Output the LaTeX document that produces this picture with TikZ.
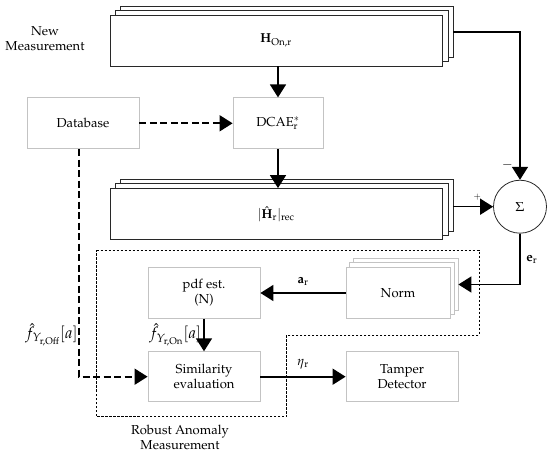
\documentclass[tikz,border=0pt]{standalone}
\usepackage[T1]{fontenc}
\usepackage{mathpazo}
\usetikzlibrary{arrows.meta,calc,backgrounds}
\definecolor{boxgray}{RGB}{195,195,195}
\definecolor{stackblack}{RGB}{40,40,40}
\tikzset{
  gbox/.style={draw=boxgray,fill=white,line width=0.8pt,
               minimum width=112pt,minimum height=51pt,align=center,inner sep=2pt},
  kbox/.style={draw=stackblack,fill=white,line width=0.8pt,
               minimum width=332pt,minimum height=51pt},
  arr/.style={-{Triangle[length=13pt,width=16pt]},line width=1.6pt},
  darr/.style={arr,dash pattern=on 7pt off 3.5pt},
  bound/.style={line width=0.9pt,dash pattern=on 2.5pt off 1.5pt},
  flbl/.style={inner sep=1pt,font=\fontsize{16}{18}\selectfont},
}

\begin{document}
\begin{tikzpicture}[
  x=1pt, y=-1pt,
  font=\fontsize{13}{15}\selectfont,
  lbl/.style={inner sep=1pt, align=center}
]
\useasboundingbox (0,0) rectangle (550,452);

% blocks
\node[kbox] (hon) at (276,40.5) {$\mathbf{H}_{\mathrm{On,r}}$};
\node[gbox, minimum width=90pt] (dcae) at (278,123.3) {DCAE$^{*}_{\mathrm{r}}$};
\node[gbox] (db) at (83,123.3) {Database};
\node[kbox] (hrec) at (276,214) {$|\hat{\mathbf{H}}_{\mathrm{r}}|_{\mathrm{rec}}$};
\node[circle, draw=stackblack, fill=white, line width=0.8pt, minimum size=53pt] (sum) at (520,206.7) {$\Sigma$};
\node[gbox, minimum width=104pt] (norm) at (398,293) {Norm};
\node[gbox] (pdf) at (204,293) {pdf est.\\(N)};
\node[gbox, minimum height=50pt] (sim) at (204,376.7) {Similarity\\evaluation};
\node[gbox, minimum height=50pt] (tamp) at (402,376.7) {Tamper\\Detector};

\node[lbl] (newm) at (45,39) {New\\Measurement};
\node[lbl] (ram) at (180,437) {Robust Anomaly\\Measurement};

% stacked copies behind
\begin{scope}[on background layer]
\foreach \n/\dx/\dy in {hon/11/8.5, hon/5.5/4.5, hrec/11/8.5, hrec/5.5/4.5}
  \draw[stackblack, fill=white, line width=0.8pt]
    ([shift={(\dx,-\dy)}]\n.south west) rectangle ([shift={(\dx,-\dy)}]\n.north east);
\foreach \dx/\dy in {8/8.5, 4/4.5}
  \draw[boxgray, fill=white, line width=0.8pt]
    ([shift={(\dx,-\dy)}]norm.south west) rectangle ([shift={(\dx,-\dy)}]norm.north east);
\end{scope}

% robust anomaly measurement boundary
\draw[bound] (96.7,250) -- (479,250) -- (479,335) -- (286.7,335)
  -- (286.7,416.7) -- (96.7,416.7) -- cycle;

% connectors
\draw[arr] (hon.south -| dcae.north) -- (dcae.north);
\draw[arr] (dcae.south) -- (dcae.south |- hrec.north);
\draw[darr] (db.east) -- (dcae.west);
\draw[arr] ([shift={(11,-8.5)}]hon.east) -| node[pos=0.95, left=3pt]{$-$} (sum.north);
\draw[arr] ([xshift=11]hrec.east |- sum.west) -- node[above=2pt, xshift=4pt]{\small$+$} (sum.west);
\draw[arr] (sum.south) |- node[pos=0.25, right=2pt]{$\mathbf{e}_{\mathrm{r}}$} ([shift={(8,-8.5)}]norm.east);
\draw[arr] (norm.west) -- node[above=3pt]{$\mathbf{a}_{\mathrm{r}}$} (pdf.east);
\draw[arr] (pdf.south) -- node[flbl, left=1pt]{$\hat{f}_{Y_{\mathrm{r,On}}}[a]$} (sim.north);
\draw[darr] ([xshift=-4]db.south) |- (sim.west);
\node[flbl, anchor=east] (foff) at (79,335) {$\hat{f}_{Y_{\mathrm{r,Off}}}[a]$};
\draw[arr] (sim.east) -- node[above=3pt]{$\eta_{\mathrm{r}}$} (tamp.west);
\end{tikzpicture}
\end{document}
